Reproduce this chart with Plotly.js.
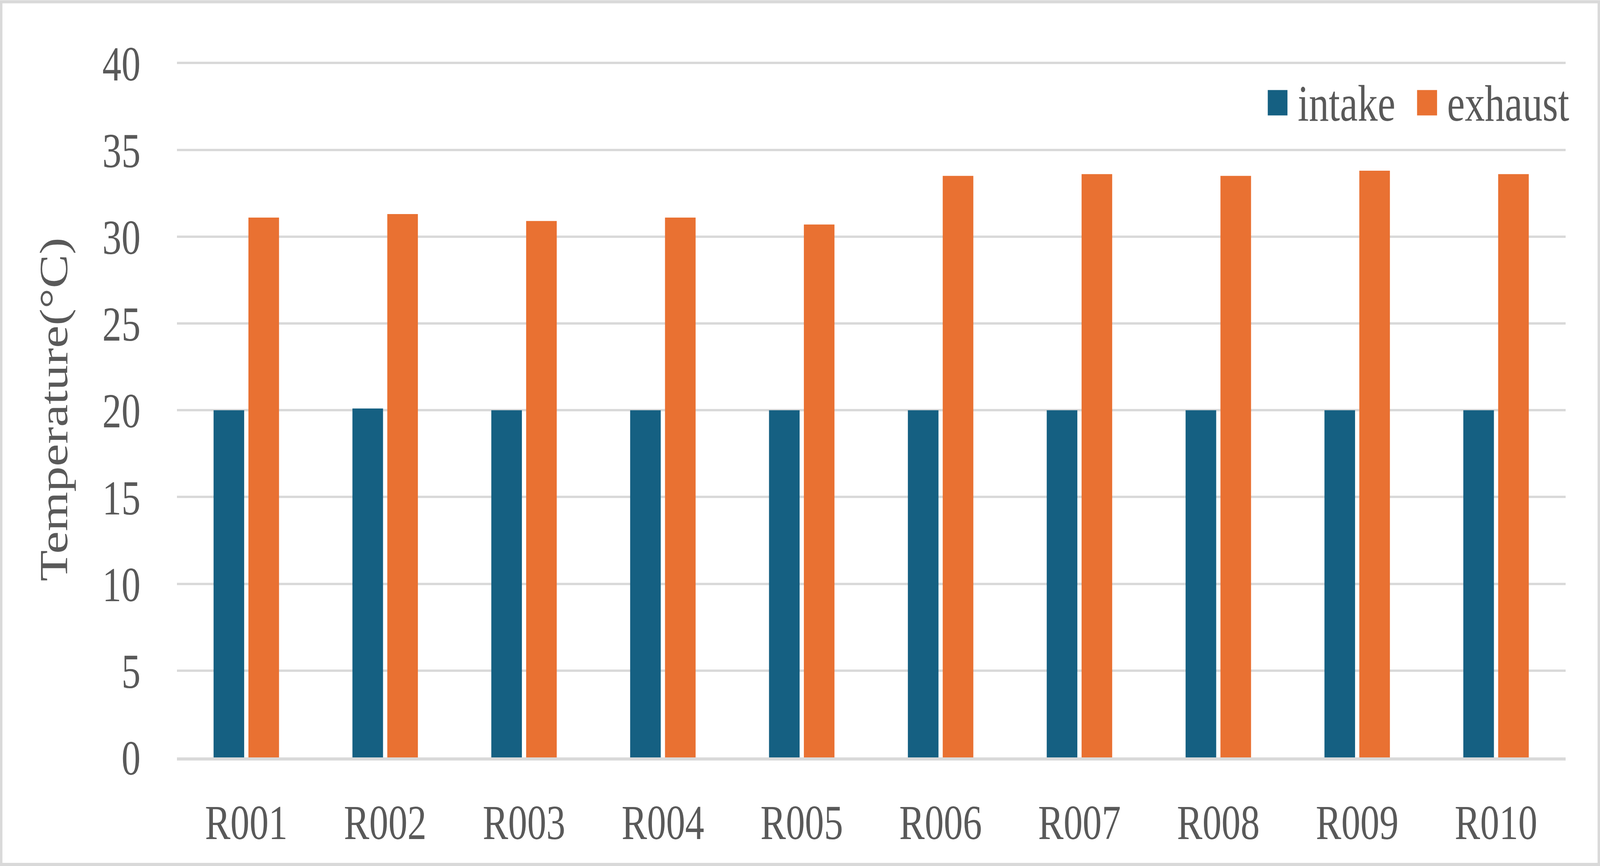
<!DOCTYPE html>
<html>
<head>
<meta charset="utf-8">
<script src="https://cdn.plot.ly/plotly-3.0.1.min.js"></script>
<style>
  html, body { margin: 0; padding: 0; background: #ffffff; overflow: hidden; }
  #chart { width: 5283px; height: 2217px; transform-origin: 0 0; }
</style>
</head>
<body>
<div id="chart"></div>
<script>
// ---- data ----
const categories = ["R001", "R002", "R003", "R004", "R005", "R006", "R007", "R008", "R009", "R010"];
const seriesNames = ["intake", "exhaust"];
const intakeValues = [20.0, 20.1, 20.0, 20.0, 20.0, 20.0, 20.0, 20.0, 20.0, 20.0];
const exhaustValues = [31.1, 31.3, 30.9, 31.1, 30.7, 33.5, 33.6, 33.5, 33.8, 33.6];
const yTickValues = [0, 5, 10, 15, 20, 25, 30, 35, 40];
const yAxisTitle = "Temperature(°C)";

// ---- styles ----
const colors = ["#156082", "#E97132"];
const textColor = "#595959";
const gridColor = "#D9D9D9";
const fontFamily = "'Liberation Serif', 'Times New Roman', serif";

// chart is laid out in reference pixels, then fitted to the viewport
const W = 5283, H = 2217;
const div = document.getElementById("chart");
const sx = (window.innerWidth || W) / W;
const sy = (window.innerHeight || H) / H;
div.style.transform = "scale(" + sx + "," + sy + ")";

const margin = { l: 584, r: 114, t: 156.5, b: 278, pad: 0 };
const plotW = W - margin.l - margin.r;
const plotH = H - margin.t - margin.b;
const px2x = p => (p - margin.l) / plotW;
const px2y = p => (H - margin.b - p) / plotH;

const traces = [
  { type: "bar", name: seriesNames[0], x: categories, y: intakeValues,
    marker: { color: colors[0] }, showlegend: false },
  { type: "bar", name: seriesNames[1], x: categories, y: exhaustValues,
    marker: { color: colors[1] }, showlegend: false }
];

// custom legend (large squares like the reference)
const legendItems = [
  { sq: [4186, 4251], tx: 4283 },
  { sq: [4679, 4745], tx: 4776 }
];
const legTop = 230, legBot = 295, legMid = 262;
const shapes = [];
const annotations = [];
legendItems.forEach((it, i) => {
  shapes.push({
    type: "rect", xref: "paper", yref: "paper",
    x0: px2x(it.sq[0]), x1: px2x(it.sq[1]), y0: px2y(legBot), y1: px2y(legTop),
    fillcolor: colors[i], line: { width: 0 }
  });
  annotations.push({
    xref: "paper", yref: "paper", x: px2x(it.tx), y: px2y(legMid + 2),
    xanchor: "left", yanchor: "middle", showarrow: false,
    text: seriesNames[i], font: { family: fontFamily, size: 132, color: textColor }
  });
});
// outer chart border
shapes.push({
  type: "rect", xref: "paper", yref: "paper",
  x0: px2x(4), x1: px2x(W - 4), y0: px2y(H - 4), y1: px2y(4),
  line: { color: gridColor, width: 8 }, fillcolor: "rgba(0,0,0,0)", layer: "below"
});

const layout = {
  width: W, height: H,
  margin: margin,
  paper_bgcolor: "#ffffff", plot_bgcolor: "#ffffff",
  font: { family: fontFamily, size: 126, color: textColor },
  barmode: "group",
  bargap: 0.498,
  bargroupgap: 0.122,
  showlegend: false,
  xaxis: {
    type: "category",
    showgrid: false, zeroline: false, showline: true,
    linecolor: gridColor, linewidth: 8,
    ticks: "", ticklabelstandoff: 50,
    tickfont: { family: fontFamily, size: 126, color: textColor }
  },
  yaxis: {
    range: [0, 40.1], tickvals: yTickValues,
    showgrid: true, gridcolor: gridColor, gridwidth: 6,
    zeroline: false, showline: false, ticks: "",
    ticklabelstandoff: 119,
    tickfont: { family: fontFamily, size: 126, color: textColor },
    title: { text: yAxisTitle, standoff: 71, font: { family: fontFamily, size: 130, color: textColor } }
  },
  shapes: shapes,
  annotations: annotations
};

Plotly.newPlot("chart", traces, layout, { staticPlot: true, displayModeBar: false });
</script>
</body>
</html>
